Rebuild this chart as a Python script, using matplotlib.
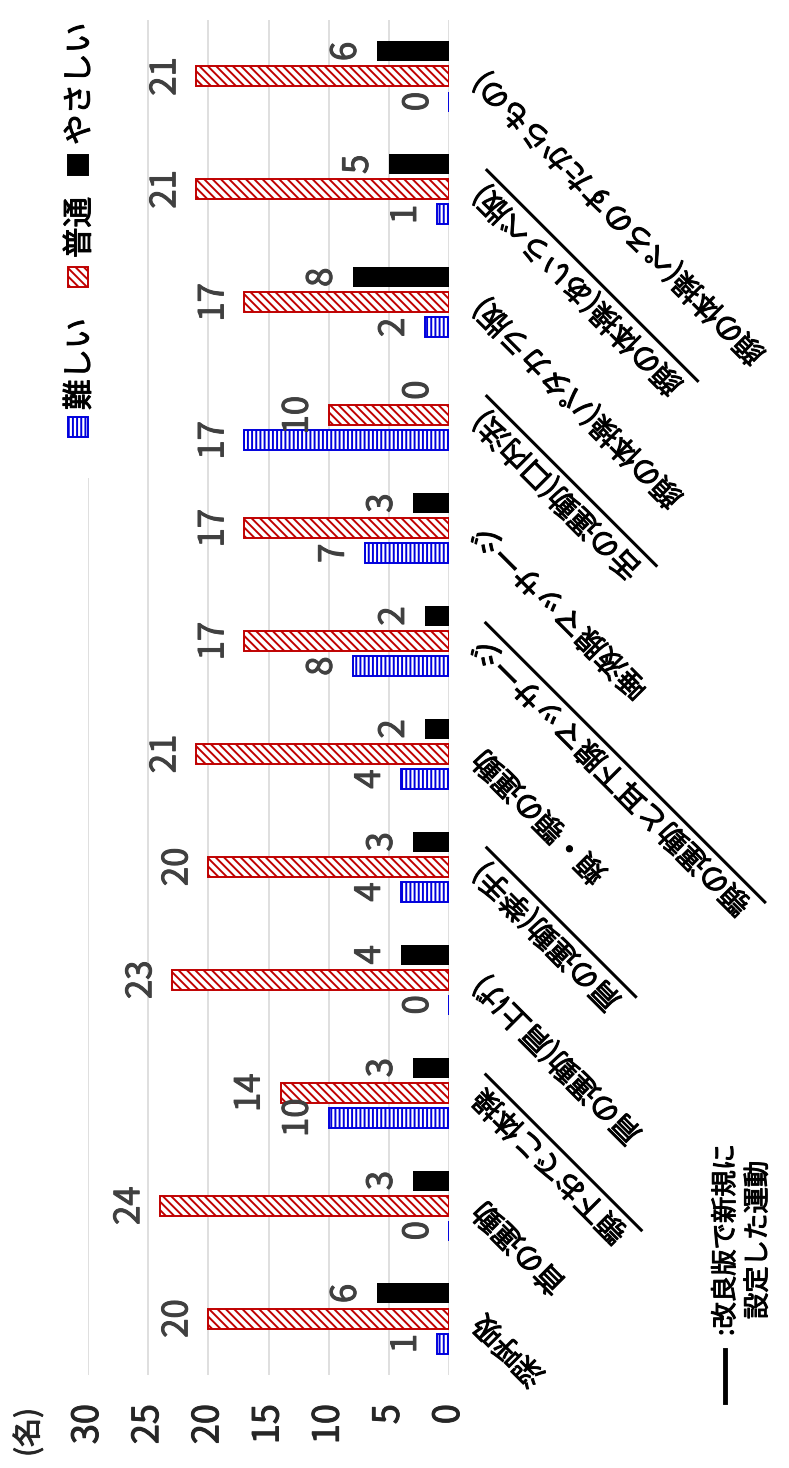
import numpy as np
import matplotlib
matplotlib.use('Agg')
import matplotlib.pyplot as plt
import matplotlib.patheffects as pe
from matplotlib.patches import Rectangle
from matplotlib.lines import Line2D
from matplotlib.transforms import offset_copy

plt.rcParams['font.family'] = ['Noto Sans CJK JP', 'DejaVu Sans']
plt.rcParams['hatch.linewidth'] = 1.4

# 運動ごとの回答人数
exercises = ['深呼吸', '首の運動', '顎下おでこ体操', '肩の運動(肩上げ)', '肩の運動(挙手)',
             '頬・顎の運動', '顎の運動と耳下腺マッサージ', '唾液腺マッサージ',
             '舌の運動(口内法)', '顔の体操(パタカラ版)', '顔の体操(あいうべ版)',
             '顔の体操(ぺろのすたからもの)']
new_exercise = [False, False, True, False, True, False, True, False, True, False, True, False]
difficult = [1, 0, 10, 0, 4, 4, 8, 7, 17, 2, 1, 0]
normal = [20, 24, 14, 23, 20, 21, 17, 17, 10, 17, 21, 21]
easy = [6, 3, 3, 4, 3, 2, 2, 3, 0, 8, 5, 6]
series_names = ['難しい', '普通', 'やさしい']
value_ticks = [0, 5, 10, 15, 20, 25, 30]

W, H = 789, 1468
fig = plt.figure(figsize=(W / 100, H / 100), dpi=100)
ax = fig.add_axes([88 / W, 93 / H, 361 / W, 1355 / H])


def thick(color):
    # 文字を少し太く見せる
    return [pe.withStroke(linewidth=0.7, foreground=color)]


y = np.arange(len(exercises))
step = 0.222
bh = 0.177
blue = '#0000DD'
red = '#C00000'

b1 = ax.barh(y - step, difficult, height=bh, color='white', edgecolor=blue,
             hatch='||||', linewidth=1.4, zorder=2)
b2 = ax.barh(y, normal, height=bh, color='white', edgecolor=red,
             hatch='\\\\\\\\', linewidth=1.4, zorder=2)
b3 = ax.barh(y + step, easy, height=bh, color='black', edgecolor='black',
             linewidth=0, zorder=2)

for bars, vals in [(b1, difficult), (b2, normal), (b3, easy)]:
    for rect, v in zip(bars, vals):
        ax.annotate(str(v), (v, rect.get_y() + rect.get_height() / 2),
                    xytext=(-13, 0), textcoords='offset pixels',
                    rotation=90, ha='right', va='center',
                    fontsize=25, color='#404040', path_effects=thick('#404040'))

ax.set_xlim(30, 0)
ax.set_ylim(-0.5, len(exercises) - 0.5)
ax.set_xticks(value_ticks)
ax.set_xticklabels([str(v) for v in value_ticks], rotation=90, fontsize=26,
                   color='#262626', path_effects=thick('#262626'))
ax.tick_params(axis='x', length=0, pad=21)
ax.set_yticks([])
ax.grid(axis='x', color='#D9D9D9', linewidth=1.2)
ax.set_axisbelow(True)
for s in ax.spines.values():
    s.set_visible(False)

fig.text(29 / W, 1 - 1408 / H, '(名)', rotation=90, ha='center', va='top',
         fontsize=21, color='#262626', path_effects=thick('#262626'))

# 項目名（斜め）
label_tr = offset_copy(ax.get_yaxis_transform(), fig=fig, x=30, y=0, units='dots')
labels = []
for i, name in enumerate(exercises):
    t = ax.text(1, i, name, transform=label_tr, rotation=135,
                rotation_mode='anchor', ha='right', va='center',
                fontsize=21, color='black', path_effects=thick('black'))
    labels.append(t)

# 改良版で新規に設定した運動に下線を引く
fig.canvas.draw()
renderer = fig.canvas.get_renderer()
ang = np.deg2rad(135)
u = np.array([np.cos(ang), np.sin(ang)])
n = np.array([-np.sin(ang), np.cos(ang)])
to_fig = fig.transFigure.inverted()
for t, flag in zip(labels, new_exercise):
    if not flag:
        continue
    w, h, d = renderer.get_text_width_height_descent(t.get_text(), t.get_fontproperties(), ismath=False)
    a = t.get_transform().transform(t.get_position())
    off = -(h / 2 + 4) * n
    p0 = a + 8 * u + off
    p1 = a - (w + 8) * u + off
    q = to_fig.transform([p0, p1])
    fig.add_artist(Line2D(q[:, 0], q[:, 1], color='black', linewidth=2.2,
                          transform=fig.transFigure))

# 凡例
fig.add_artist(Rectangle((55 / W, 1 - 478 / H), 60 / W, 478 / H, transform=fig.transFigure,
                         facecolor='white', edgecolor='none', zorder=1))
legend_items = [
    (series_names[0], 427, 410, dict(facecolor='white', edgecolor=blue, hatch='||||')),
    (series_names[1], 277, 258, dict(facecolor='white', edgecolor=red, hatch='\\\\\\\\')),
    (series_names[2], 165, 145, dict(facecolor='black', edgecolor='black')),
]
for name, my, ty, style in legend_items:
    fig.add_artist(Rectangle(((78 - 10) / W, 1 - (my + 10) / H), 20 / W, 20 / H,
                             transform=fig.transFigure, linewidth=1.4, zorder=2, **style))
    fig.text(80 / W, 1 - ty / H, name, rotation=90, ha='center', va='bottom',
             fontsize=22, color='black', zorder=3, path_effects=thick('black'))

# 注記
fig.add_artist(Line2D([725 / W, 725 / W], [1 - 1350 / H, 1 - 1402 / H], color='black',
                      linewidth=3.5, transform=fig.transFigure))
fig.text(742 / W, 1 - 1240 / H, ':改良版で新規に\n設定した運動', rotation=90,
         ha='center', va='center', multialignment='center', fontsize=19,
         linespacing=1.25, color='black', path_effects=thick('black'))

fig.savefig('out.png', dpi=100)
